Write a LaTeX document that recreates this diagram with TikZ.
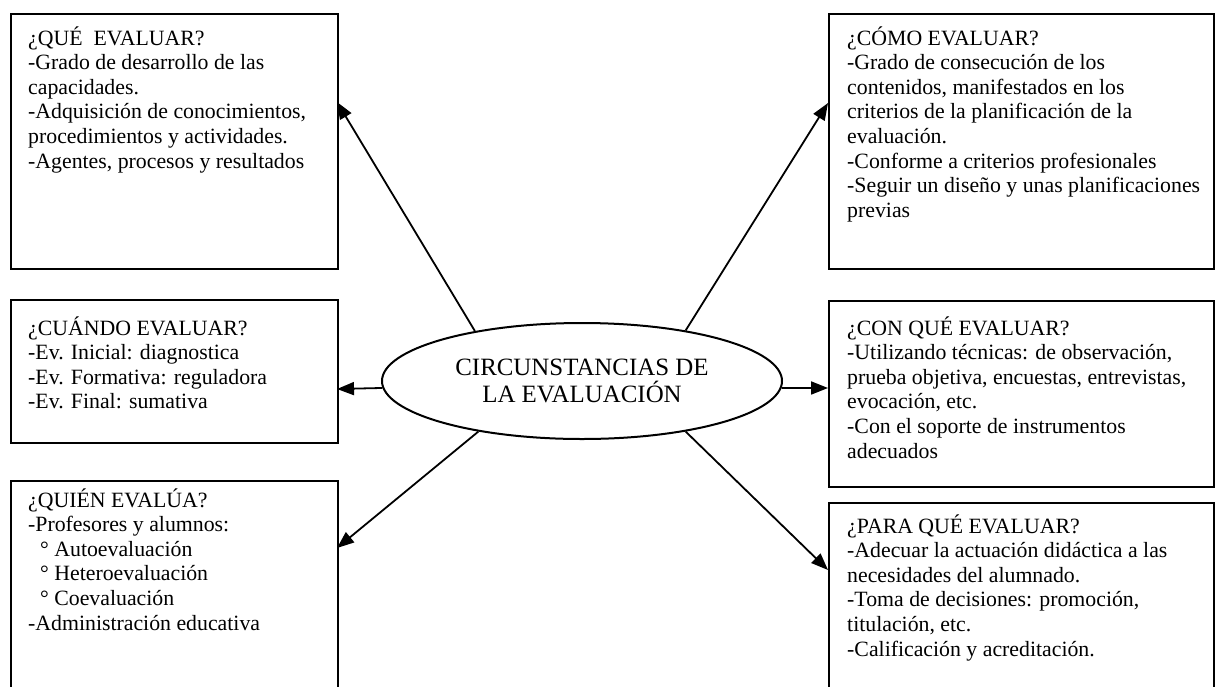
\documentclass[tikz,border=0pt]{standalone}
\usepackage{fontspec}
\setmainfont{Liberation Serif}
\usetikzlibrary{arrows.meta,shapes.geometric}
\newcommand{\boxtext}[1]{\begin{tabular}[t]{@{}l@{}}#1\end{tabular}}
\begin{document}
\begin{tikzpicture}[x=1pt,y=-1pt,
  box/.style={draw,line width=2pt,rectangle,inner sep=0pt,anchor=north west},
  txt/.style={anchor=base west,inner sep=0pt,font=\fontsize{21.8}{24.6}\selectfont},
  conn/.style={line width=1.8pt,-{Triangle[length=17pt,width=13pt]}}]
\clip (0,0) rectangle (1215,686);
\fill[white] (0,0) rectangle (1215,686);
% boxes
\node[box,minimum width=327,minimum height=255] (que) at (10,13) {};
\node[box,minimum width=327,minimum height=143] (cuando) at (10,299) {};
\node[box,minimum width=327,minimum height=230] (quien) at (10,480) {};
\node[box,minimum width=385,minimum height=255] (como) at (828,13) {};
\node[box,minimum width=385,minimum height=186] (conque) at (828,300) {};
\node[box,minimum width=385,minimum height=210] (paraque) at (828,502) {};
% texts
\node[txt] (tque) at (28,45) {\boxtext{¿QUÉ\ \ EVALUAR?\\-Grado de desarrollo de las\\capacidades.\\-Adquisición de conocimientos,\\procedimientos y actividades.\\-Agentes, procesos y resultados}};
\node[txt] (tcuando) at (28,335) {\boxtext{¿CUÁNDO EVALUAR?\\-Ev. Inicial: diagnostica\\-Ev. Formativa: reguladora\\-Ev. Final: sumativa}};
\node[txt] (tquien) at (28,507) {\boxtext{¿QUIÉN EVALÚA?\\-Profesores y alumnos:\\\hspace*{12pt}° Autoevaluación\\\hspace*{12pt}° Heteroevaluación\\\hspace*{12pt}° Coevaluación\\-Administración educativa}};
\node[txt] (tcomo) at (847,45) {\boxtext{¿CÓMO EVALUAR?\\-Grado de consecución de los\\contenidos, manifestados en los\\criterios de la planificación de la\\evaluación.\\-Conforme a criterios profesionales\\-Seguir un diseño y unas planificaciones\\previas}};
\node[txt] (tconque) at (847,335) {\boxtext{¿CON QUÉ EVALUAR?\\-Utilizando técnicas: de observación,\\prueba objetiva, encuestas, entrevistas,\\evocación, etc.\\-Con el soporte de instrumentos\\adecuados}};
\node[txt] (tparaque) at (847,533) {\boxtext{¿PARA QUÉ EVALUAR?\\-Adecuar la actuación didáctica a las\\necesidades del alumnado.\\-Toma de decisiones: promoción,\\titulación, etc.\\-Calificación y acreditación.}};
% center ellipse
\node[draw,ellipse,line width=2pt,minimum width=400,minimum height=116,inner sep=0pt,align=center,font=\fontsize{24.9}{27}\selectfont] (ell) at (582,381) {CIRCUNSTANCIAS DE\\LA EVALUACIÓN};
% arrow end points on box borders
\coordinate (eque) at (337,102);
\coordinate (ecomo) at (828,103);
\coordinate (ecuando) at (337,389);
\coordinate (econque) at (828,388);
\coordinate (equien) at (337,548);
\coordinate (eparaque) at (828,570);
\draw[conn] (ell.155) -- (eque);
\draw[conn] (ell.26) -- (ecomo);
\draw[conn] (ell.182) -- (ecuando);
\draw[conn] (ell.358) -- (econque);
\draw[conn] (ell.206) -- (equien);
\draw[conn] (ell.334) -- (eparaque);
\end{tikzpicture}
\end{document}
